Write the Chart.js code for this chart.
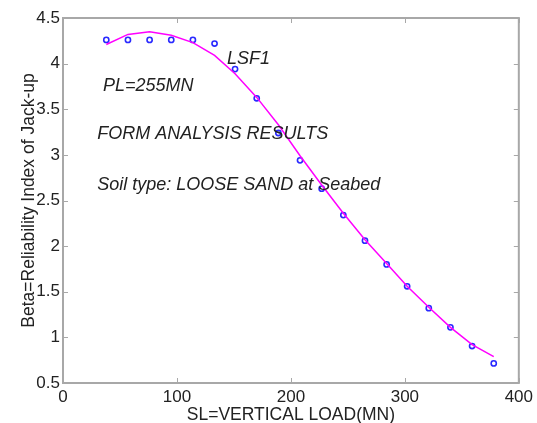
<!DOCTYPE html>
<html>
<head>
<meta charset="utf-8">
<script src="https://cdn.jsdelivr.net/npm/chart.js@4/dist/chart.umd.min.js"></script>
<style>
  html, body { margin: 0; padding: 0; background: #fff; }
  #wrap { width: 537px; height: 423px; }
</style>
</head>
<body>
<div id="wrap"><canvas id="c" width="537" height="423"></canvas></div>
<script>
const loads = [38, 57, 76, 95, 114, 133, 151, 170, 189, 208, 227, 246, 265, 284, 302, 321, 340, 359, 378];
const betaPoints = [4.26, 4.26, 4.26, 4.26, 4.26, 4.22, 3.94, 3.62, 3.24, 2.94, 2.63, 2.34, 2.06, 1.80, 1.56, 1.32, 1.11, 0.905, 0.715];
const betaFit = [4.21, 4.32, 4.35, 4.31, 4.23, 4.09, 3.89, 3.63, 3.33, 2.99, 2.67, 2.36, 2.07, 1.81, 1.56, 1.33, 1.11, 0.92, 0.79];
const xTicks = [0, 100, 200, 300, 400];
const yTicks = [0.5, 1, 1.5, 2, 2.5, 3, 3.5, 4, 4.5];
const annotations = [
  { text: 'LSF1', x: 144, y: 4.0 },
  { text: 'PL=255MN', x: 35, y: 3.70 },
  { text: 'FORM ANALYSIS RESULTS', x: 30, y: 3.17 },
  { text: 'Soil type: LOOSE SAND at Seabed', x: 30, y: 2.62 }
];

const FONT = '"Liberation Sans", Arial, sans-serif';
const AXIS_COLOR = '#a8a8a8';

const framePlugin = {
  id: 'frame',
  afterDraw(chart) {
    const { ctx, chartArea: a, scales } = chart;
    ctx.save();
    ctx.strokeStyle = AXIS_COLOR;
    ctx.lineWidth = 1;
    const tl = 5;
    ctx.beginPath();
    xTicks.forEach(v => {
      const px = Math.round(scales.x.getPixelForValue(v)) + 0.5;
      ctx.moveTo(px, a.bottom); ctx.lineTo(px, a.bottom - tl);
      ctx.moveTo(px, a.top); ctx.lineTo(px, a.top + tl);
    });
    yTicks.forEach(v => {
      const py = Math.round(scales.y.getPixelForValue(v)) + 0.5;
      ctx.moveTo(a.left, py); ctx.lineTo(a.left + tl, py);
      ctx.moveTo(a.right, py); ctx.lineTo(a.right - tl, py);
    });
    ctx.stroke();
    ctx.lineWidth = 2;
    ctx.strokeRect(a.left, a.top, a.right - a.left, a.bottom - a.top);
    ctx.fillStyle = '#222';
    ctx.font = 'italic 18px ' + FONT;
    ctx.textBaseline = 'alphabetic';
    ctx.textAlign = 'left';
    annotations.forEach(t => {
      ctx.fillText(t.text, scales.x.getPixelForValue(t.x), scales.y.getPixelForValue(t.y));
    });
    ctx.restore();
  }
};

new Chart(document.getElementById('c'), {
  type: 'scatter',
  data: {
    datasets: [
      {
        label: 'fit',
        data: loads.map((x, i) => ({ x: x, y: betaFit[i] })),
        showLine: true,
        borderColor: '#ff00ff',
        borderWidth: 1.5,
        pointRadius: 0,
        tension: 0,
        fill: false
      },
      {
        label: 'points',
        data: loads.map((x, i) => ({ x: x, y: betaPoints[i] })),
        showLine: false,
        pointStyle: 'circle',
        pointRadius: 2.6,
        pointBorderWidth: 1.6,
        pointBorderColor: '#2a2aff',
        pointBackgroundColor: 'rgba(255,255,255,0)'
      }
    ]
  },
  options: {
    responsive: false,
    animation: false,
    devicePixelRatio: 1,
    layout: { padding: { top: 18, right: 16, left: 0, bottom: 0 } },
    plugins: { legend: { display: false }, tooltip: { enabled: false } },
    scales: {
      x: {
        type: 'linear',
        min: 0, max: 400,
        afterBuildTicks: s => { s.ticks = xTicks.map(v => ({ value: v })); },
        afterFit: s => { s.height = 40; },
        grid: { display: false, drawTicks: false },
        border: { display: false },
        ticks: { color: '#222', font: { family: FONT, size: 17 }, padding: 4, maxRotation: 0, callback: v => String(v) },
        title: { display: true, text: 'SL=VERTICAL LOAD(MN)', color: '#222', font: { family: FONT, size: 17.5, lineHeight: 1 }, padding: { top: 0, bottom: -1 } }
      },
      y: {
        type: 'linear',
        min: 0.5, max: 4.5,
        afterBuildTicks: s => { s.ticks = yTicks.map(v => ({ value: v })); },
        afterFit: s => { s.width = 63; },
        grid: { display: false, drawTicks: false },
        border: { display: false },
        ticks: { color: '#222', font: { family: FONT, size: 17 }, padding: 3, callback: v => String(v) },
        title: { display: true, text: 'Beta=Reliability Index of Jack-up', color: '#222', font: { family: FONT, size: 17.5, lineHeight: 1 }, padding: { top: 20, bottom: 0 } }
      }
    }
  },
  plugins: [framePlugin]
});
</script>
</body>
</html>
